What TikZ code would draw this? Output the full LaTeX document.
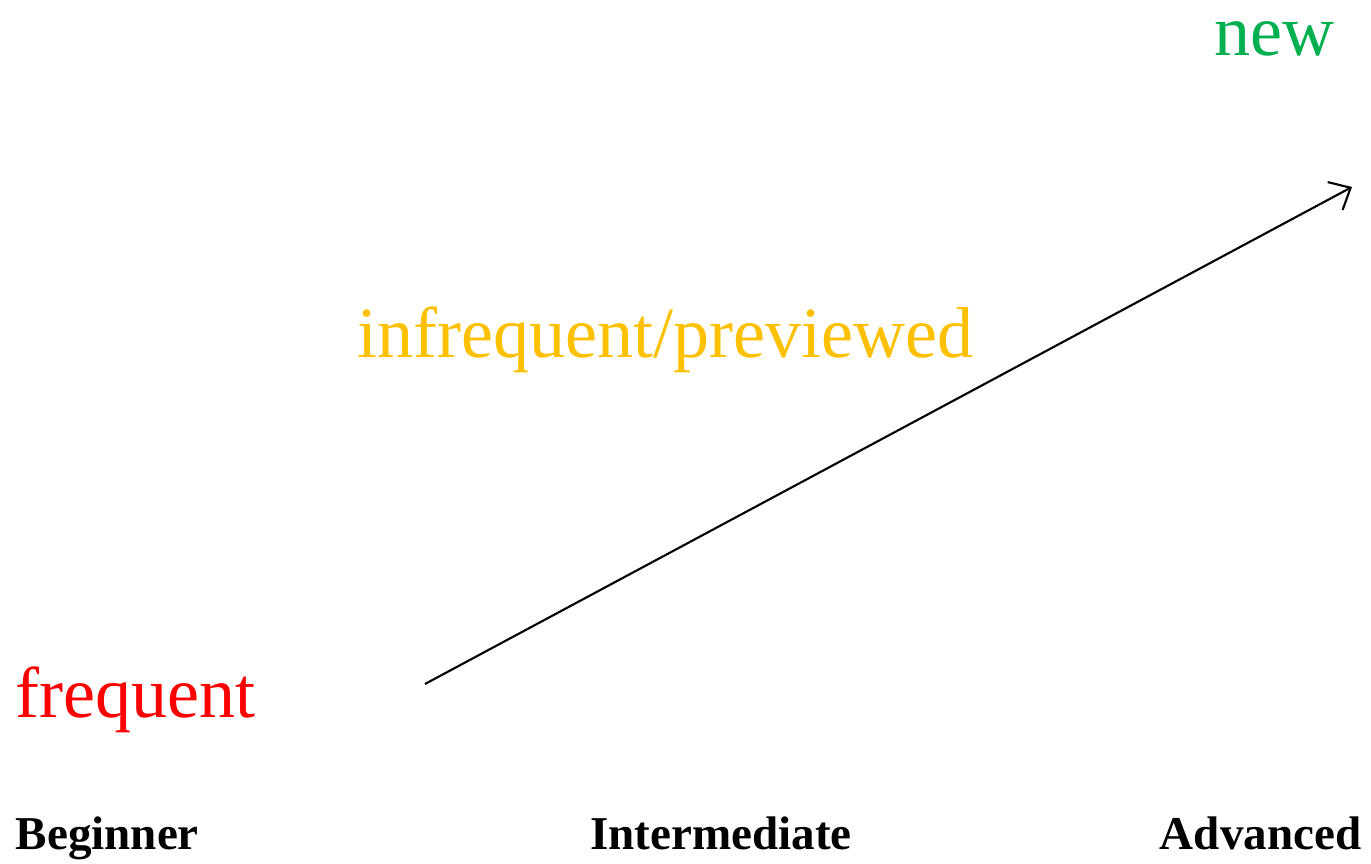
\documentclass[tikz,border=0pt]{standalone}
\usepackage{fontspec}
\setmainfont{Liberation Serif}
\usepackage{tikz}
\usetikzlibrary{positioning,arrows.meta}
\definecolor{wordred}{RGB}{255, 0, 0}
\definecolor{wordamber}{RGB}{255, 192, 0}
\definecolor{wordgreen}{RGB}{0, 176, 80}

\begin{document}
\begin{tikzpicture}[
    word/.style={inner sep=0pt, anchor=base west, font=\fontsize{20.5}{24}\selectfont},
    level/.style={inner sep=0pt, anchor=base west, font=\fontsize{13.4}{16}\selectfont\bfseries},
    arrow/.style={-{Straight Barb[length=5pt,width=9pt]}, semithick, black}
]
\useasboundingbox (0,0) rectangle (13.71,8.64);
% vocabulary labels
\node[word, text=wordred] (frequent) at (0.15,1.46) {frequent};
\node[word, text=wordamber] (infrequent) at (3.57,5.06) {infrequent/previewed};
\node[word, text=wordgreen, anchor=base east] (new) at (13.35,8.08) {new};

% learner levels
\node[level] (beginner) at (0.15,0.14) {Beginner};
\node[level, anchor=base] (intermediate) at (7.21,0.14) {Intermediate};
\node[level, anchor=base east] (advanced) at (13.62,0.14) {Advanced};

\coordinate (start) at (4.25,1.80);
\coordinate (tip) at (13.52,6.77);
\draw[arrow] (start) -- (tip);
\end{tikzpicture}
\end{document}
